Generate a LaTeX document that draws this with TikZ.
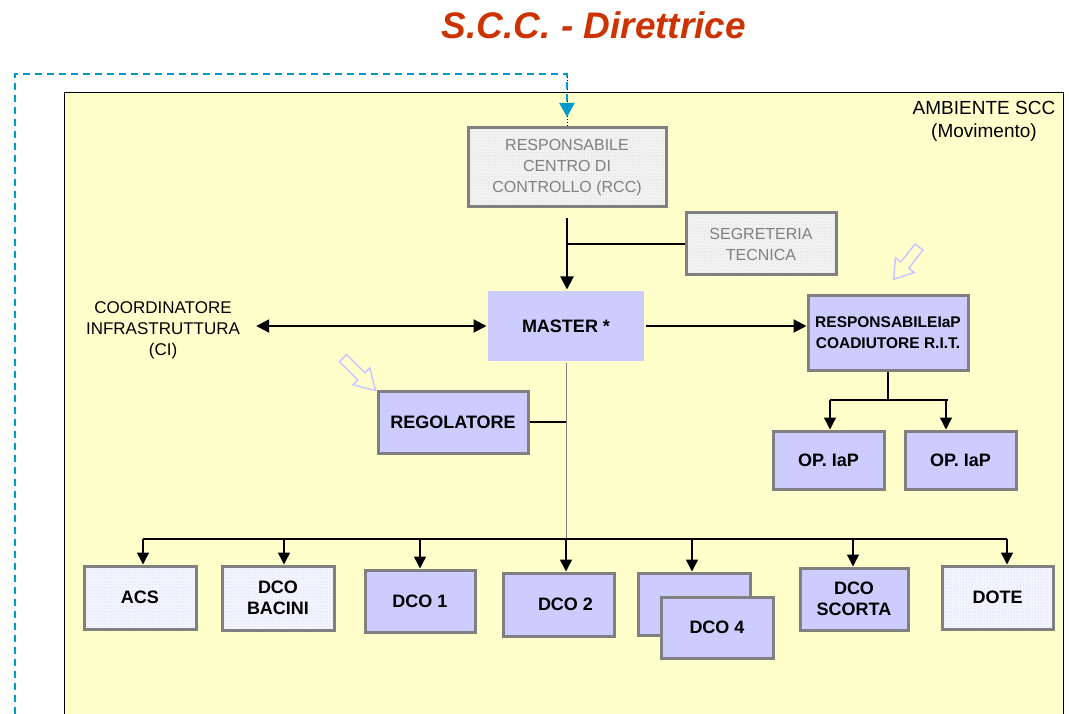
\documentclass[tikz,border=0pt]{standalone}
\usepackage{fontspec}
\setmainfont{Liberation Sans}
\usetikzlibrary{arrows.meta,patterns}
\definecolor{amb}{RGB}{255,255,204}
\definecolor{lav}{RGB}{204,204,255}
\definecolor{bord}{RGB}{128,128,128}
\definecolor{dashblue}{RGB}{0,153,204}
\definecolor{titlered}{RGB}{204,51,0}
\definecolor{hollowc}{RGB}{200,200,255}
\definecolor{graybg}{RGB}{242,242,242}
\definecolor{grayfg}{RGB}{205,205,205}
\definecolor{dotbg}{RGB}{244,244,255}
\definecolor{dotfg}{RGB}{200,200,245}
\tikzset{
  box/.style={draw=bord, line width=3pt, inner sep=0pt, align=center,
    font=\fontsize{18}{21}\selectfont\bfseries},
  solidbox/.style={box, fill=lav},
  dotbox/.style={box, preaction={fill=dotbg}, pattern=dots, pattern color=dotfg},
  graybox/.style={box, preaction={fill=graybg}, pattern=dots, pattern color=grayfg,
    font=\fontsize{16}{21}\selectfont, text=bord},
  conn/.style={line width=2pt, -{Triangle[length=13pt,width=13pt]}},
  dconn/.style={line width=2pt, {Triangle[length=13pt,width=13pt]}-{Triangle[length=13pt,width=13pt]}},
  sconn/.style={line width=1.5pt, -{Triangle[length=12pt,width=12pt]}},
  plain/.style={line width=1.5pt},
  hollowarrow/.style={draw=hollowc, line width=1.5pt, line join=miter}
}
\begin{document}
\begin{tikzpicture}[x=1pt,y=-1pt]
\useasboundingbox (0,0) rectangle (1069,714);
% environment background
\path[fill=amb] (64,720) -- (64,93) -- (1063,93) -- (1063,720) -- cycle;
\draw[line width=1pt] (64,720) -- (64,93) -- (1063,93) -- (1063,720);
% title
\node[text=titlered, font=\fontsize{37}{40}\selectfont\bfseries\itshape] (title) at (594,25) {S.C.C. - Direttrice};
% environment label
\node[align=center, font=\fontsize{19}{23}\selectfont] (ambl) at (984,121) {AMBIENTE SCC\\(Movimento)};
% boxes
\node[graybox, minimum width=198pt, minimum height=79pt] (rcc) at (567,167.5) {RESPONSABILE\\CENTRO DI\\CONTROLLO (RCC)};
\node[graybox, minimum width=150pt, minimum height=62pt] (seg) at (761,244) {SEGRETERIA\\TECNICA};
\node[box, draw=none, fill=lav, minimum width=156pt, minimum height=70pt] (master) at (566,326) {MASTER *};
\node[solidbox, minimum width=160pt, minimum height=74pt, font=\fontsize{15.5}{21}\selectfont\bfseries] (resp) at (888,333) {RESPONSABILEIaP\\COADIUTORE R.I.T.};
\node[solidbox, minimum width=111pt, minimum height=58pt] (op1) at (828.5,460) {OP. IaP};
\node[solidbox, minimum width=111pt, minimum height=58pt] (op2) at (960.5,460) {OP. IaP};
\node[solidbox, minimum width=150pt, minimum height=62pt] (reg) at (453,422) {REGOLATORE};
\node[align=center, inner sep=0pt, font=\fontsize{17}{21}\selectfont] (ci) at (163,330) {COORDINATORE\\INFRASTRUTTURA\\(CI)};
\node[dotbox, minimum width=112pt, minimum height=63pt] (acs) at (140,597.5) {ACS};
\node[dotbox, minimum width=112pt, minimum height=64pt] (bac) at (278,598) {DCO\\BACINI};
\node[solidbox, minimum width=110pt, minimum height=62pt] (dco1) at (420,601) {DCO 1};
\node[solidbox, minimum width=111pt, minimum height=63pt] (dco2) at (558.5,604.5) {\hspace*{14pt}DCO 2};
\node[solidbox, minimum width=112pt, minimum height=62pt] (dco3) at (694,604) {};
\node[solidbox, minimum width=112pt, minimum height=61pt] (dco4) at (717,627.5) {DCO 4};
\node[solidbox, minimum width=108pt, minimum height=62pt] (sco) at (854,599) {DCO\\SCORTA};
\node[dotbox, minimum width=111pt, minimum height=63pt] (dote) at (997.5,597.5) {DOTE};
% dashed feedback line
\coordinate (fbl) at (15,714);
\coordinate (fbt) at (15,74);
\coordinate (fbr) at (567,74);
\coordinate (fba) at (567,117);
\draw[dotted, line width=1pt] (fbr) -- (rcc.north);
\draw[dashblue, line width=2pt, dash pattern=on 7pt off 5pt, -{Triangle[length=14pt,width=15pt]}] (fbl) -- (fbt) -- (fbr) -- (fba);
% main connectors
\draw[conn, shorten <=10pt] (rcc.south) -- (rcc.south |- master.north);
\draw[line width=1.5pt] (seg.west) -- (seg.west -| rcc.south);
\draw[dconn, shorten >=16pt] (master.west) -- (master.west -| ci.east);
\draw[conn] (master.east) -- (master.east -| resp.west);
% resp to op
\coordinate (rj1) at (830,400);
\coordinate (rj2) at (948,400);
\coordinate (rj3) at (946,400);
\draw[plain] (resp.south) -- (resp.south |- rj1);
\draw[plain] (rj1) -- (rj2);
\draw[sconn] (rj1) -- (rj1 |- op1.north);
\draw[sconn] (rj3) -- (rj3 |- op2.north);
% master down
\coordinate (busL) at (143,539);
\coordinate (busR) at (1007,539);
\draw[bord, line width=1pt] (master.south) -- (master.south |- busL);
\draw[line width=2pt] (reg.east) -- (reg.east -| master.south);
\draw[plain] (busL) -- (busR);
\foreach \x/\n in {143/acs,284/bac,420/dco1,566/dco2,692/dco3,853/sco,1007/dote}{
  \coordinate (t\n) at (\x,539);
  \draw[sconn] (t\n) -- (t\n |- \n.north);
}
% hollow hint arrows
\draw[hollowarrow, shift={(343,358)}, rotate=-45] (0,-5) -- (26,-5) -- (26,-12) -- (46,0) -- (26,12) -- (26,5) -- (0,5) -- cycle;
\draw[hollowarrow, shift={(919,247)}, rotate=-128] (0,-5) -- (23,-5) -- (23,-12) -- (41,0) -- (23,12) -- (23,5) -- (0,5) -- cycle;
\end{tikzpicture}
\end{document}
